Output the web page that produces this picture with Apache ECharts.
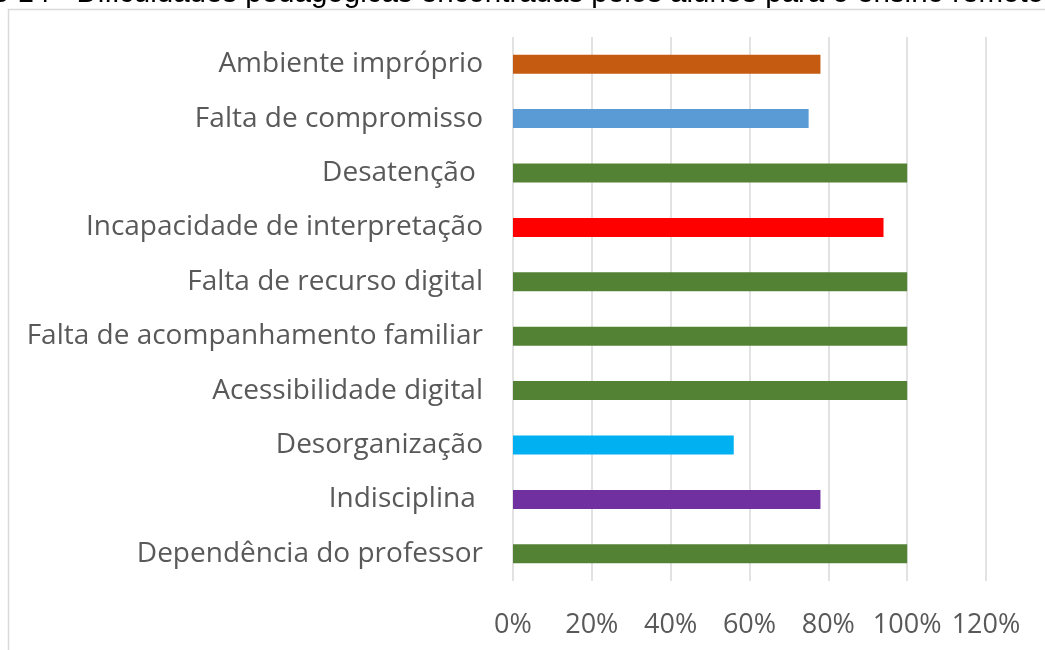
<!DOCTYPE html>
<html>
<head>
<meta charset="utf-8">
<script src="https://cdn.jsdelivr.net/npm/echarts@6/dist/echarts.min.js"></script>
<style>html,body{margin:0;padding:0;background:#fff;}#c{width:1045px;height:650px;}</style>
</head>
<body>
<div id="c"></div>
<script>
const titleText = 'Gráfico 14 - Dificuldades pedagógicas encontradas pelos alunos para o ensino remoto';
const categories = ['Dependência do professor','Indisciplina ','Desorganização','Acessibilidade digital','Falta de acompanhamento familiar','Falta de recurso digital','Incapacidade de interpretação','Desatenção ','Falta de compromisso','Ambiente impróprio'];
const values = [1.00, 0.78, 0.56, 1.00, 1.00, 1.00, 0.94, 1.00, 0.75, 0.78];
const barColors = ['#548235','#7030A0','#00B0F0','#548235','#548235','#548235','#FF0000','#548235','#5B9BD5','#C55A11'];
const xTicks = {min: 0, max: 1.2, interval: 0.2};

const chart = echarts.init(document.getElementById('c'), null, {renderer: 'canvas'});
chart.setOption({
  animation: false,
  backgroundColor: '#fff',
  graphic: [
    {type: 'rect', shape: {x: 8.5, y: 9.5, width: 1100, height: 700}, style: {fill: 'none', stroke: '#d9d9d9', lineWidth: 1.5}, silent: true},
    {type: 'text', x: 1044, y: 9, style: {text: titleText, fill: '#000', font: '29.5px "Liberation Sans", Arial, sans-serif', textAlign: 'right', textVerticalAlign: 'bottom'}, silent: true}
  ],
  grid: {left: 513, right: 59, top: 37, bottom: 69, containLabel: false, outerBoundsMode: 'none'},
  xAxis: {
    type: 'value', min: xTicks.min, max: xTicks.max, interval: xTicks.interval,
    axisLine: {show: false}, axisTick: {show: false},
    splitLine: {show: true, lineStyle: {color: '#d9d9d9', width: 1.5}},
    axisLabel: {margin: 31, color: '#595959', fontSize: 27, fontFamily: '"Open Sans", sans-serif',
      formatter: v => Math.round(v * 100) + '%'}
  },
  yAxis: {
    type: 'category', data: categories,
    axisLine: {show: false}, axisTick: {show: false},
    axisLabel: {margin: 30, color: '#595959', fontSize: 28, fontFamily: '"Open Sans", sans-serif'}
  },
  series: [{
    type: 'bar', barWidth: 19,
    data: values.map((v, i) => ({value: v, itemStyle: {color: barColors[i]}}))
  }]
});
</script>
</body>
</html>
